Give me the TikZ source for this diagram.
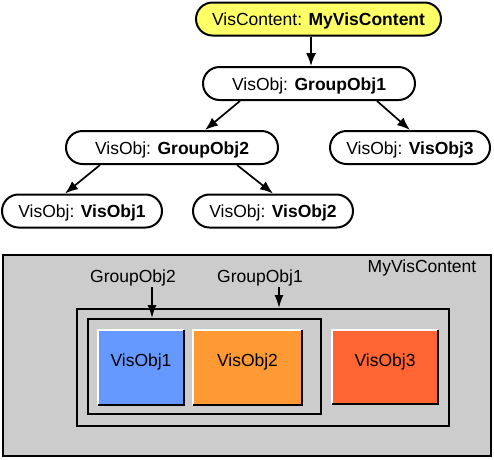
\documentclass[tikz,border=0pt]{standalone}
\usepackage{fontspec}
\setmainfont{Liberation Sans}
\usetikzlibrary{shapes.misc,arrows.meta}
\definecolor{vyellow}{HTML}{FFFF66}
\definecolor{vgray}{HTML}{CCCCCC}
\definecolor{vblue}{HTML}{6699FF}
\definecolor{vorange}{HTML}{FF9933}
\definecolor{vred}{HTML}{FF6633}
\begin{document}
\begin{tikzpicture}[x=1pt,y=-1pt,
  font=\fontsize{17.5}{20}\selectfont,
  pill/.style={rounded rectangle, draw, line width=2pt, minimum height=33pt,
    inner sep=0pt, fill=white, text height=13pt, text depth=0pt},
  arr/.style={line width=1.7pt, -{Latex[length=13pt,width=10pt]}},
  frame/.style={draw, line width=2pt, inner sep=0pt},
  visbox/.style={inner sep=0pt, minimum height=75pt, text height=13pt, text depth=14.4pt},
  lbl/.style={inner sep=1pt, anchor=base}]
\useasboundingbox (0,0) rectangle (494,459);
% tree
\node[pill, fill=vyellow, minimum width=245pt] (top) at (318.5,19) {VisContent: \textbf{MyVisContent}};
\node[pill, minimum width=212pt] (g1) at (309,83.5) {VisObj: \textbf{GroupObj1}};
\node[pill, minimum width=212pt] (g2) at (172,147.5) {VisObj: \textbf{GroupObj2}};
\node[pill, minimum width=160pt] (v3) at (410,147.5) {VisObj: \textbf{VisObj3}};
\node[pill, minimum width=160pt] (v1) at (82,211) {VisObj: \textbf{VisObj1}};
\node[pill, minimum width=160pt] (v2) at (273,211) {VisObj: \textbf{VisObj2}};
\draw[arr] ([xshift=2pt]g1.north |- top.south) -- ([xshift=2pt]g1.north);
\draw[arr] ([xshift=-69pt]g1.south) -- ([xshift=33pt]g2.north);
\draw[arr] ([xshift=68pt]g1.south) -- (v3.north);
\draw[arr] ([xshift=-72pt]g2.south) -- ([xshift=-17pt]v1.north);
\draw[arr] ([xshift=65pt]g2.south) -- (v2.north);
% containment picture
\node[frame, fill=vgray, minimum width=488pt, minimum height=201pt] (cont) at (247,355.5) {};
\node[frame, minimum width=372pt, minimum height=117pt] (g1r) at (263,367.5) {};
\node[frame, minimum width=233pt, minimum height=95pt] (g2r) at (204.5,366.5) {};
\node[visbox, fill=vblue, minimum width=86pt] (b1) at (141,367.5) {VisObj1};
\node[visbox, fill=vorange, minimum width=109pt] (b2) at (247.5,367.5) {VisObj2};
\node[visbox, fill=vred, minimum width=106pt, minimum height=74pt] (b3) at (385,367) {VisObj3};
\foreach \b in {b1,b2,b3}{
  \draw[white, line width=2pt] (\b.south west) -- (\b.north west) -- (\b.north east);
  \draw[black, line width=2.5pt] (\b.north east) -- (\b.south east) -- (\b.south west);
}
\node[lbl] (lmvc) at (422,272) {MyVisContent};
\node[lbl] (lg2) at (133,282) {GroupObj2};
\node[lbl] (lg1) at (260,282) {GroupObj1};
\draw[arr, -{Latex[length=13pt,width=9pt]}] ([xshift=19pt]lg2.south) -- ([xshift=19pt]lg2.south |- g2r.north);
\draw[arr, -{Latex[length=13pt,width=9pt]}] ([xshift=19pt]lg1.south) -- ([xshift=19pt]lg1.south |- g1r.north);
\end{tikzpicture}
\end{document}
